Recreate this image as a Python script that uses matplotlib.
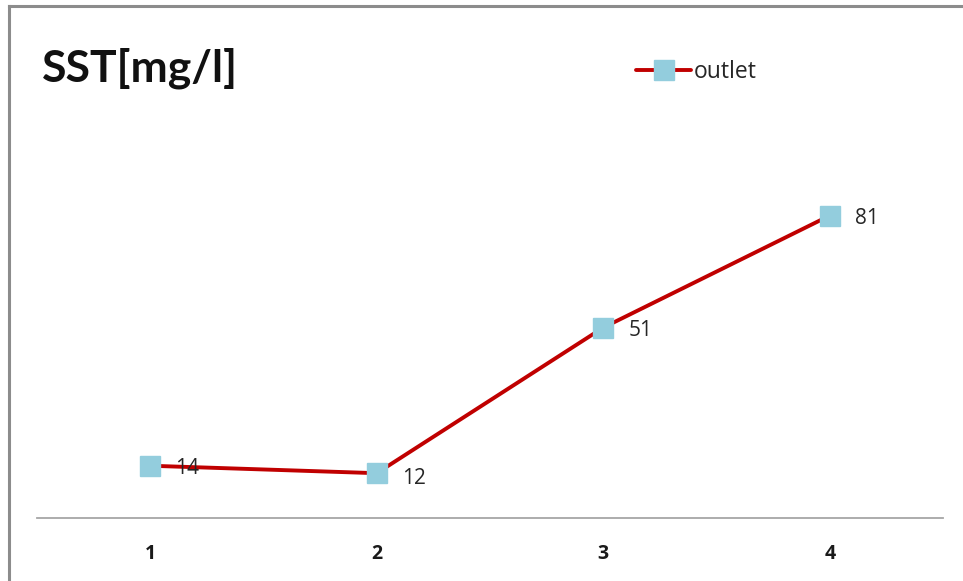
import matplotlib
matplotlib.use("Agg")
import matplotlib.pyplot as plt
from matplotlib.lines import Line2D

# SST readings at the outlet, per sample
samples = [1, 2, 3, 4]
outlet = [14, 12, 51, 81]
tick_labels = ["1", "2", "3", "4"]

plt.rcParams['font.family'] = ['Open Sans', 'DejaVu Sans']

W, H = 963, 581
fig = plt.figure(figsize=(W / 100, H / 100), dpi=100)
ax = fig.add_axes([37 / W, (H - 518) / H, 906 / W, (518 - 182) / H])

ax.plot(samples, outlet, color="#C00000", lw=2.8, marker="s", ms=14,
        mfc="#93CDDD", mec="#93CDDD", label="outlet", solid_capstyle="round")

# value labels to the right of each point
for x, y in zip(samples, outlet):
    ax.annotate(str(y), (x, y), xytext=(18, -2 if y > 13 else -4),
                textcoords="offset points", va="center", ha="left",
                fontsize=15, color="#262626")

ax.set_xlim(0.5, 4.5)
ax.set_ylim(0, 90)
ax.set_xticks(samples)
ax.set_xticklabels(tick_labels, fontsize=14, fontweight="bold", color="#1a1a1a")
ax.tick_params(axis="x", length=0, pad=18.5)
ax.set_yticks([])
for side in ["top", "right", "left"]:
    ax.spines[side].set_visible(False)
ax.spines["bottom"].set_color("#A6A6A6")
ax.spines["bottom"].set_linewidth(1.3)

fig.text(42 / W, 1 - 68 / H, "SST[mg/l]", fontsize=32, fontweight="bold",
         va="center", ha="left", color="#111111", family=["Lato", "DejaVu Sans"])

leg = fig.legend(loc="center left", bbox_to_anchor=(636 / W, 1 - 72 / H),
                 frameon=False, fontsize=16.5, handlelength=2.4,
                 handletextpad=0.1, borderpad=0, borderaxespad=0)
for t in leg.get_texts():
    t.set_color("#262626")

# outer frame, left and top edges only
fig.add_artist(Line2D([8.5 / W, 8.5 / W], [0, 1 - 6 / H], color="#8C8C8C", lw=2.2))
fig.add_artist(Line2D([8.5 / W, 1], [1 - 6 / H, 1 - 6 / H], color="#8C8C8C", lw=2.2))

fig.savefig("out.png", dpi=100)
